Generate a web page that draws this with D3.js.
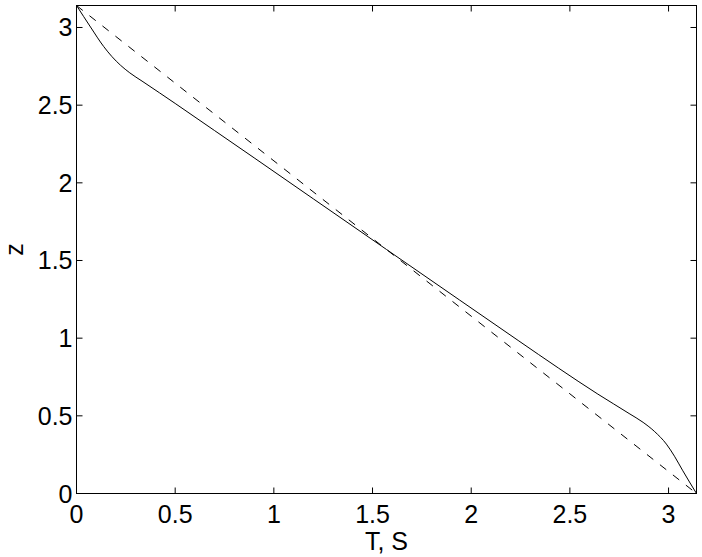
<!DOCTYPE html>
<html>
<head>
<meta charset="utf-8">
<script src="https://cdn.jsdelivr.net/npm/d3@7"></script>
<style>
  html, body { margin: 0; padding: 0; background: #fff; }
  svg { display: block; }
  text { font-family: "Liberation Sans", Arial, Helvetica, sans-serif; fill: #000; }
</style>
</head>
<body>
<svg id="chart" width="702" height="557"></svg>
<script>
// ---- data ----
const PI = Math.PI;
const xTicks = [0, 0.5, 1, 1.5, 2, 2.5, 3];
const yTicks = [0, 0.5, 1, 1.5, 2, 2.5, 3];
const xTickLabels = ["0", "0.5", "1", "1.5", "2", "2.5", "3"];
const yTickLabels = ["0", "0.5", "1", "1.5", "2", "2.5", "3"];
// solid curve (T, S profile vs z)
const solidT = [0, 0.071, 0.138, 0.18, 0.223, 0.27, 0.332, 0.42, 0.50, 0.70, 0.90, 1.20, 1.5708,
                1.9416, 2.2416, 2.4416, 2.6416, 2.72, 2.80, 2.871, 2.93, 2.989, 3.03, 3.0706, 3.1416];
const solidZ = [3.1416, 3.003, 2.877, 2.812, 2.757, 2.708, 2.655, 2.580, 2.511, 2.336, 2.161, 1.897, 1.5708,
                1.245, 0.982, 0.808, 0.640, 0.578, 0.515, 0.458, 0.398, 0.318, 0.240, 0.150, 0];
// dashed reference line
const dashedT = [0, 3.1416];
const dashedZ = [3.1416, 0];
const xLabel = "T, S";
const yLabel = "z";

// ---- layout ----
const svg = d3.select("#chart");
const x = d3.scaleLinear().domain([0, PI]).range([76.5, 696.5]);
const y = d3.scaleLinear().domain([0, PI]).range([493.5, 5.5]);
const tickLen = 6;
const fontSize = 25;

// frame
svg.append("rect")
  .attr("x", x(0)).attr("y", y(PI))
  .attr("width", x(PI) - x(0)).attr("height", y(0) - y(PI))
  .attr("fill", "none").attr("stroke", "#000").attr("stroke-width", 1);

// ticks (inward, all four sides)
const tg = svg.append("g").attr("stroke", "#000").attr("stroke-width", 1);
xTicks.forEach(t => {
  tg.append("line").attr("x1", x(t)).attr("x2", x(t)).attr("y1", y(0)).attr("y2", y(0) - tickLen);
  tg.append("line").attr("x1", x(t)).attr("x2", x(t)).attr("y1", y(PI)).attr("y2", y(PI) + tickLen);
});
yTicks.forEach(t => {
  tg.append("line").attr("x1", x(0)).attr("x2", x(0) + tickLen).attr("y1", y(t)).attr("y2", y(t));
  tg.append("line").attr("x1", x(PI)).attr("x2", x(PI) - tickLen).attr("y1", y(t)).attr("y2", y(t));
});

// tick labels
svg.append("g").selectAll("text").data(xTicks).join("text")
  .attr("x", d => x(d)).attr("y", y(0) + 29)
  .attr("text-anchor", "middle").attr("font-size", fontSize)
  .text((d, i) => xTickLabels[i]);
svg.append("g").selectAll("text").data(yTicks).join("text")
  .attr("x", x(0) - 4).attr("y", d => y(d) + 9)
  .attr("text-anchor", "end").attr("font-size", fontSize)
  .text((d, i) => yTickLabels[i]);

// axis labels
svg.append("text")
  .attr("x", (x(0) + x(PI)) / 2).attr("y", 550)
  .attr("text-anchor", "middle").attr("font-size", fontSize)
  .text(xLabel);
svg.append("text")
  .attr("transform", `translate(23,${(y(0) + y(PI)) / 2}) rotate(-90)`)
  .attr("text-anchor", "middle").attr("font-size", fontSize)
  .text(yLabel);

// lines
const solidData = solidT.map((t, i) => [t, solidZ[i]]);
const dashedData = dashedT.map((t, i) => [t, dashedZ[i]]);

svg.append("path")
  .attr("d", d3.line().x(d => x(d[0])).y(d => y(d[1])).curve(d3.curveMonotoneX)(solidData))
  .attr("fill", "none").attr("stroke", "#000").attr("stroke-width", 1);
svg.append("path")
  .attr("d", d3.line().x(d => x(d[0])).y(d => y(d[1]))(dashedData))
  .attr("fill", "none").attr("stroke", "#000").attr("stroke-width", 1)
  .attr("stroke-dasharray", "8,8.5");
</script>
</body>
</html>
